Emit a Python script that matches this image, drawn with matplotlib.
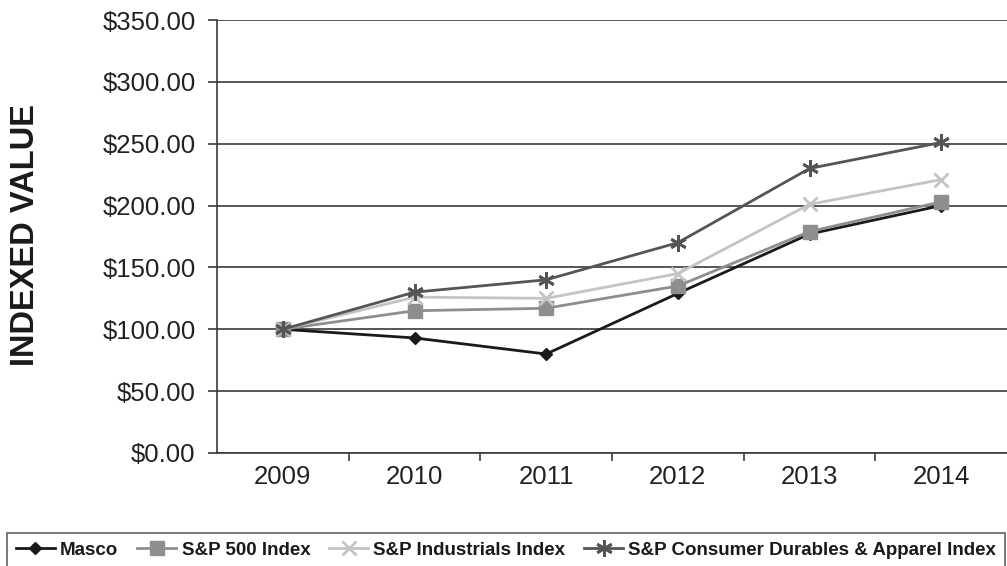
import matplotlib.pyplot as plt
import numpy as np
from matplotlib.ticker import FuncFormatter, FixedLocator

years = ['2009', '2010', '2011', '2012', '2013', '2014']
masco = [100, 93, 80, 129, 177, 200]
sp500 = [100, 115, 117, 135, 179, 203]
industrials = [100, 126, 125, 145, 201, 221]
consumer = [100, 130, 140, 170, 230, 251]

plt.rcParams['font.family'] = ['Liberation Sans', 'DejaVu Sans']

fig = plt.figure(figsize=(10.07, 5.66), dpi=100)
ax = fig.add_axes([217 / 1007, 1 - 453 / 566, 1 - 217 / 1007, (453 - 20) / 566])

x = np.arange(len(years))

# series styles: label, values, colour, marker, marker size
series = [
    ('Masco', masco, '#1a1a1a', 'D', 6.5),
    ('S&P 500 Index', sp500, '#8e8e8e', 's', 10.5),
    ('S&P Industrials Index', industrials, '#c4c4c4', 'x', 10),
    ('S&P Consumer Durables & Apparel Index', consumer, '#555555', (6, 2, 0), 12),
]

handles = []
for label, vals, color, marker, ms in series:
    mew = 2 if marker in ('x', (6, 2, 0)) else 1
    h, = ax.plot(x, vals, color=color, linewidth=2, marker=marker, markersize=ms,
                 markeredgewidth=mew, label=label, zorder=3)
    handles.append(h)

ax.set_xlim(-0.5, 5.5)
ax.set_ylim(0, 350)
ax.set_yticks(np.arange(0, 351, 50))
ax.yaxis.set_major_formatter(FuncFormatter(lambda v, p: f'${v:,.2f}'))
ax.grid(axis='y', color='#3a3a3a', linewidth=1.2, zorder=0)
ax.set_axisbelow(True)

ax.set_xticks(x)
ax.set_xticklabels(years)
ax.xaxis.set_minor_locator(FixedLocator(np.arange(0.5, 5.5, 1)))
ax.tick_params(axis='x', which='major', length=0, pad=9, labelsize=18.5, labelcolor='#222222')
ax.tick_params(axis='x', which='minor', length=6, width=1.2, color='#3a3a3a')
ax.tick_params(axis='y', length=6.5, width=1.2, color='#3a3a3a', pad=9, labelsize=18.5,
               labelcolor='#222222')

for s in ['top', 'right']:
    ax.spines[s].set_visible(False)
for s in ['left', 'bottom']:
    ax.spines[s].set_color('#3a3a3a')
    ax.spines[s].set_linewidth(1.2)

fig.text(26 / 1007, 1 - 235 / 566, 'INDEXED VALUE', rotation=90, fontsize=23.5,
         fontweight='bold', ha='center', va='center', color='#1a1a1a')

leg = fig.legend(handles=handles, loc='center', ncol=4,
                 bbox_to_anchor=(506 / 1007, 1 - 550 / 566),
                 prop={'weight': 'bold', 'size': 13.5}, frameon=True, fancybox=False,
                 handlelength=2.1, handletextpad=0.27, columnspacing=1.0,
                 borderpad=0.45, borderaxespad=0, edgecolor='#3a3a3a')
leg.get_frame().set_linewidth(1.2)
for t in leg.get_texts():
    t.set_color('#1a1a1a')

fig.savefig('out.png', dpi=100)
